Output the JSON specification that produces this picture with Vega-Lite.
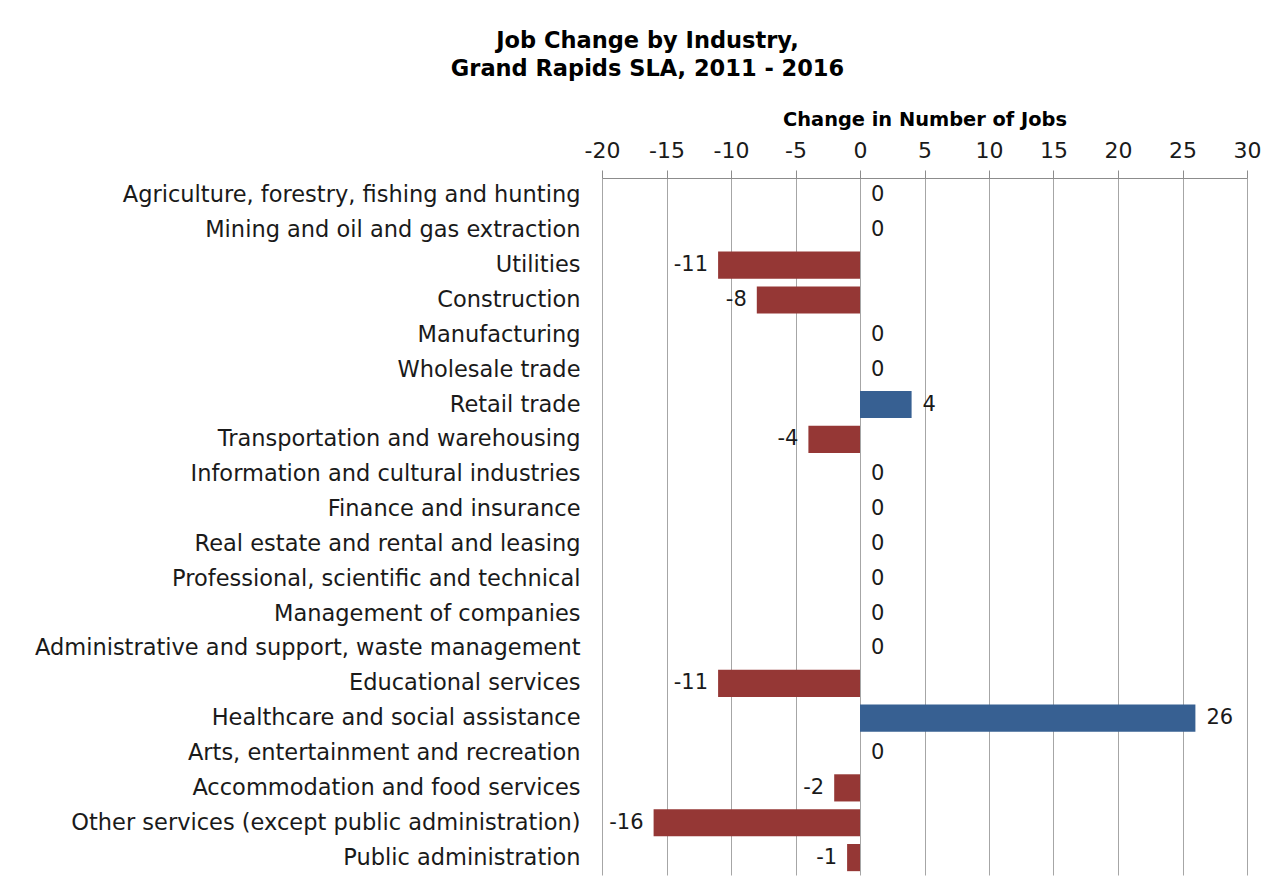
{
  "$schema": "https://vega.github.io/schema/vega-lite/v6.json",
  "autosize": {"type": "none"},
  "width": 645,
  "height": 697,
  "padding": {"left": 602, "top": 178, "right": 28, "bottom": 16},
  "background": "white",
  "title": {
    "text": ["Job Change by Industry,", "Grand Rapids  SLA, 2011 - 2016"],
    "font": "DejaVu Sans",
    "fontSize": 22.5,
    "fontWeight": "bold",
    "color": "#000000",
    "lineHeight": 28,
    "anchor": "middle",
    "frame": "group",
    "dx": -277,
    "offset": 29
  },
  "data": {
    "values": [
      {"industry": "Agriculture, forestry, fishing and hunting", "change": 0},
      {"industry": "Mining and oil and gas extraction", "change": 0},
      {"industry": "Utilities", "change": -11},
      {"industry": "Construction", "change": -8},
      {"industry": "Manufacturing", "change": 0},
      {"industry": "Wholesale trade", "change": 0},
      {"industry": "Retail trade", "change": 4},
      {"industry": "Transportation and warehousing", "change": -4},
      {"industry": "Information and cultural industries", "change": 0},
      {"industry": "Finance and insurance", "change": 0},
      {"industry": "Real estate and rental and leasing", "change": 0},
      {"industry": "Professional, scientific and technical\u00a0", "change": 0},
      {"industry": "Management of companies\u00a0", "change": 0},
      {"industry": "Administrative and support, waste management\u00a0", "change": 0},
      {"industry": "Educational services", "change": -11},
      {"industry": "Healthcare and social assistance", "change": 26},
      {"industry": "Arts, entertainment and recreation", "change": 0},
      {"industry": "Accommodation and food services", "change": -2},
      {"industry": "Other services (except public administration)", "change": -16},
      {"industry": "Public administration", "change": -1}
    ]
  },
  "encoding": {
    "y": {
      "field": "industry",
      "type": "nominal",
      "sort": null,
      "scale": {"paddingInner": 0.22, "paddingOuter": 0.11},
      "axis": {
        "title": null,
        "domain": false,
        "ticks": false,
        "grid": false,
        "labelFont": "DejaVu Sans",
        "labelFontSize": 22.5,
        "labelColor": "#1a1a1a",
        "labelPadding": 22,
        "labelLimit": 800
      }
    },
    "x": {
      "field": "change",
      "type": "quantitative",
      "scale": {"domain": [-20, 30], "nice": false, "zero": false},
      "axis": {
        "orient": "top",
        "values": [-20, -15, -10, -5, 0, 5, 10, 15, 20, 25, 30],
        "labelExpr": "replace(datum.label, '\u2212', '-')",
        "title": "Change in Number of Jobs",
        "titleFont": "DejaVu Sans",
        "titleFontSize": 19.4,
        "titleFontWeight": "bold",
        "titleColor": "#000000",
        "titlePadding": 10,
        "labelFont": "DejaVu Sans",
        "labelFontSize": 22,
        "labelColor": "#1a1a1a",
        "labelPadding": 8,
        "labelFlush": false,
        "domain": true,
        "domainColor": "#8c8c8c",
        "ticks": true,
        "tickColor": "#8c8c8c",
        "tickSize": 8,
        "grid": true,
        "gridColor": "#a6a6a6",
        "gridOpacity": 1
      }
    }
  },
  "layer": [
    {
      "mark": {"type": "bar"},
      "encoding": {
        "x2": {"datum": 0},
        "color": {
          "condition": {"test": "datum.change > 0", "value": "#376092"},
          "value": "#953735"
        }
      }
    },
    {
      "transform": [{"filter": "datum.change >= 0"}],
      "mark": {"type": "text", "align": "left", "baseline": "middle", "dx": 11, "font": "DejaVu Sans", "fontSize": 21, "color": "#1a1a1a"},
      "encoding": {"text": {"field": "change", "type": "nominal"}}
    },
    {
      "transform": [{"filter": "datum.change < 0"}],
      "mark": {"type": "text", "align": "right", "baseline": "middle", "dx": -10, "font": "DejaVu Sans", "fontSize": 21, "color": "#1a1a1a"},
      "encoding": {"text": {"field": "change", "type": "nominal"}}
    }
  ],
  "config": {
    "view": {"stroke": null}
  }
}
